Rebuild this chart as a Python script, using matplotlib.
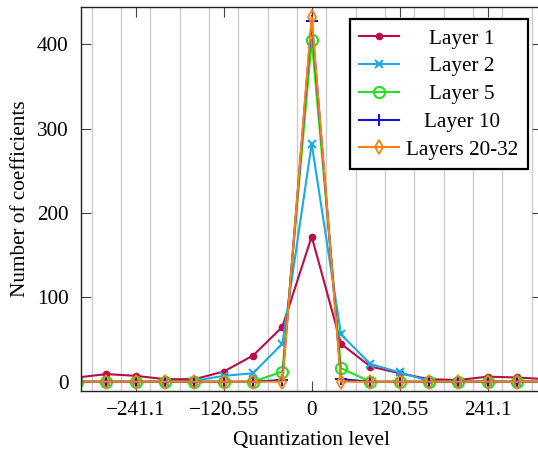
import matplotlib
matplotlib.use("Agg")
import matplotlib.pyplot as plt
from matplotlib.offsetbox import DrawingArea

# ------------------- Data -------------------
levels = [-321.47, -281.28, -241.1, -200.92, -160.73, -120.55, -80.37, -40.18,
          0, 40.18, 80.37, 120.55, 160.73, 200.92, 241.1, 281.28, 321.47]

layer1  = [5, 9, 7, 3, 3, 12, 31, 65, 172, 45, 18, 10, 3, 2, 6, 5, 3]
layer2  = [0, 0, 0, 0, 1, 7, 10, 45, 282, 56, 21, 11, 1, 0, 0, 0, 0]
layer5  = [0, 0, 0, 0, 0, 0, 0, 12, 405, 16, 0, 0, 0, 0, 0, 0, 0]
layer10 = [0, 0, 0, 0, 0, 0, 0, 2, 428, 3, 0, 0, 0, 0, 0, 0, 0]
layer20 = [0, 0, 0, 0, 0, 0, 0, 0, 432, 0, 0, 0, 0, 0, 0, 0, 0]

xtick_vals   = [-241.1, -120.55, 0, 120.55, 241.1]
xtick_labels = ["\u2212241.1", "\u2212120.55", "0", "120.55", "241.1"]
ytick_vals   = [0, 100, 200, 300, 400]

# ------------------- Style -------------------
plt.rcParams['font.family'] = ['Liberation Serif', 'DejaVu Serif']
plt.rcParams['font.size'] = 15.3

fig = plt.figure(figsize=(5.38, 4.51), dpi=100)
# right spine sits just outside the picture, like the cropped original
ax = fig.add_axes([81 / 538, 1 - 391 / 451, (542.4 - 81) / 538, (391 - 7) / 451])

lw = 1.5
ax.plot(levels, layer1, color='#B80C4C', lw=lw, marker='o', ms=4.5, label='Layer 1')
ax.plot(levels, layer2, color='#1EA8E8', lw=lw, marker='x', ms=6, mew=1.5, label='Layer 2')
ax.plot(levels, layer5, color='#22E022', lw=lw, marker='o', ms=8, mfc='none', mew=1.5, label='Layer 5')
ax.plot(levels, layer10, color='#1414D0', lw=lw, marker='+', ms=8, mew=1.5, label='Layer 10')
ax.plot(levels, layer20, color='#FF8010', lw=lw, marker='d', ms=7, mfc='none', mew=1.3,
        label='Layers 20-32')

ax.set_xlim(-316, 316)
ax.set_ylim(-11, 444)

ax.set_xticks(xtick_vals)
ax.set_xticklabels(xtick_labels)
ax.set_yticks(ytick_vals)

# vertical grid at the half-steps between quantization levels
step = 120.55 / 3
ax.set_xticks([(k + 0.5) * step for k in range(-8, 8)], minor=True)
ax.tick_params(which='minor', length=0)
ax.grid(which='minor', axis='x', color='#cccccc', lw=1.0)
ax.set_axisbelow(True)

ax.tick_params(which='major', direction='in', length=7.5, width=0.8,
               top=True, right=True, colors='#444444', labelcolor='black')
ax.tick_params(axis='x', which='major', pad=7)
ax.tick_params(axis='y', which='major', pad=9)
for s in ax.spines.values():
    s.set_linewidth(1.0)
    s.set_color('#222222')

ax.set_xlabel('Quantization level', labelpad=8)
ax.set_ylabel('Number of coefficients', labelpad=5)

leg = ax.legend(loc='upper right', bbox_to_anchor=(0.968, 0.968), borderaxespad=0,
                fancybox=False, framealpha=1, edgecolor='black',
                handlelength=1.9, handletextpad=0.3, labelspacing=0.37, borderpad=0.45)
leg.get_frame().set_linewidth(1.6)

# center legend labels in their column (pgfplots look)
fig.canvas.draw()
r = fig.canvas.get_renderer()
widths = [t.get_window_extent(r).width for t in leg.get_texts()]
wmax = max(widths)
handle_box = leg.get_children()[0].get_children()[1]
rows = [row for col in handle_box.get_children() for row in col.get_children()]
for row, w in zip(rows, widths):
    extra = (wmax - w) / 2 * 72 / fig.dpi
    sep = row.sep
    row.sep = 0
    row.get_children().insert(1, DrawingArea(sep + extra, 0))

plt.savefig('out.png', dpi=100)
